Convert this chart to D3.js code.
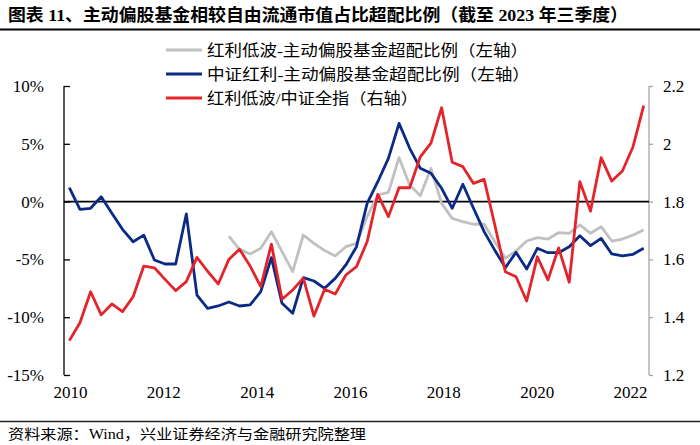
<!DOCTYPE html>
<html>
<head>
<meta charset="utf-8">
<script src="https://cdn.jsdelivr.net/npm/d3@7"></script>
<style>
  body { margin: 0; background: #fff; }
  text { font-family: "Liberation Serif", "Noto Sans CJK SC", serif; }
</style>
</head>
<body>
<div class="chart"></div>
<script>
// quarterly categories, 2010Q1 .. 2023Q3
const quarters = [
  "2010Q1","2010Q2","2010Q3","2010Q4","2011Q1","2011Q2","2011Q3","2011Q4",
  "2012Q1","2012Q2","2012Q3","2012Q4","2013Q1","2013Q2","2013Q3","2013Q4",
  "2014Q1","2014Q2","2014Q3","2014Q4","2015Q1","2015Q2","2015Q3","2015Q4",
  "2016Q1","2016Q2","2016Q3","2016Q4","2017Q1","2017Q2","2017Q3","2017Q4",
  "2018Q1","2018Q2","2018Q3","2018Q4","2019Q1","2019Q2","2019Q3","2019Q4",
  "2020Q1","2020Q2","2020Q3","2020Q4","2021Q1","2021Q2","2021Q3","2021Q4",
  "2022Q1","2022Q2","2022Q3","2022Q4","2023Q1","2023Q2","2023Q3"];

// 红利低波-主动偏股基金超配比例 (%), left axis
const lowVol = [null,null,null,null,null,null,null,null,null,null,null,null,null,null,null,
  -2.98,-4.13,-4.53,-4.04,-2.6,-4.33,-6.06,-2.89,-3.61,-4.24,-4.7,-3.9,-3.61,
  -1.3,0.57,0.8,3.8,1.44,0.51,2.88,-0.15,-1.45,-1.74,-1.96,-1.96,
  -3.47,-4.9,-4.27,-3.41,-3.12,-3.24,-2.69,-2.74,-2.02,-2.74,-2.17,-3.41,-3.24,-2.89,-2.46];

// 中证红利-主动偏股基金超配比例 (%), left axis
const csiDiv = [1.2,-0.67,-0.58,0.42,-1.0,-2.4,-3.47,-2.9,-5.05,-5.4,-5.4,-1.07,-8.08,
  -9.23,-9.03,-8.68,-9.03,-8.94,-7.79,-4.85,-8.8,-9.66,-6.58,-6.87,-7.5,-6.64,-5.48,-3.9,
  -0.15,1.72,3.74,6.77,4.61,2.88,2.45,1.15,-0.58,1.5,-0.58,-2.6,
  -4.2,-5.71,-4.39,-5.83,-4.04,-4.42,-4.42,-3.9,-2.95,-3.81,-3.18,-4.53,-4.7,-4.56,-4.04];

// 红利低波/中证全指, right axis
const ratio = [1.319,1.381,1.488,1.408,1.446,1.419,1.471,1.577,1.571,1.531,1.492,1.523,1.607,
  1.559,1.515,1.600,1.635,1.577,1.506,1.653,1.462,1.494,1.535,1.404,1.497,1.480,1.546,1.575,
  1.661,1.825,1.748,1.848,1.848,1.955,2.002,2.125,1.936,1.921,1.863,1.877,
  1.72,1.557,1.540,1.456,1.609,1.529,1.640,1.521,1.869,1.767,1.952,1.871,1.906,1.990,2.132];

const yearTicks = [2010, 2012, 2014, 2016, 2018, 2020, 2022];
const leftTicks = [10, 5, 0, -5, -10, -15];
const rightTicks = [2.2, 2.0, 1.8, 1.6, 1.4, 1.2];

const legendItems = [
  {name: "红利低波-主动偏股基金超配比例（左轴）", color: "#c0c0c0", w: 321},
  {name: "中证红利-主动偏股基金超配比例（左轴）", color: "#0b2a85", w: 323},
  {name: "红利低波/中证全指（右轴）", color: "#e4242b", w: 211}
];

const outWidth = 700, outHeight = 445;
const plot = {left: 64, right: 649, top: 86, bottom: 375};

const svg = d3.select(".chart").append("svg")
  .attr("width", outWidth)
  .attr("height", outHeight);

// title
svg.append("text")
  .attr("x", 8).attr("y", 21)
  .attr("font-size", 17.5)
  .attr("font-weight", "bold")
  .attr("textLength", 620)
  .attr("lengthAdjust", "spacingAndGlyphs")
  .text("图表 11、主动偏股基金相较自由流通市值占比超配比例（截至 2023 年三季度）");
svg.append("line")
  .attr("x1", 0).attr("x2", outWidth)
  .attr("y1", 29.5).attr("y2", 29.5)
  .attr("stroke", "#000").attr("stroke-width", 2);

// scales
const x = d3.scalePoint()
  .domain(quarters)
  .range([plot.left, plot.right])
  .padding(0.5);
const yearScale = d3.scaleLinear()
  .domain([2010, 2022])
  .range([70, 630]);
const yL = d3.scaleLinear().domain([-15, 10]).range([plot.bottom, plot.top]);
const yR = d3.scaleLinear().domain([1.2, 2.2]).range([plot.bottom, plot.top]);

// left axis
const leftAxis = d3.axisLeft(yL)
  .tickValues(leftTicks)
  .tickSize(-6)
  .tickPadding(20)
  .tickFormat(d => d + "%");
const gL = svg.append("g")
  .attr("transform", `translate(${plot.left},0)`)
  .call(leftAxis);
gL.select(".domain").attr("stroke", "#000").attr("stroke-width", 1.3)
  .attr("d", `M0,${plot.top}V${plot.bottom}`);
gL.selectAll(".tick line").attr("stroke", "#000").attr("stroke-width", 1.3);
gL.selectAll(".tick text").attr("font-size", 17).attr("fill", "#000")
  .attr("font-family", "Liberation Serif");

// right axis
const rightAxis = d3.axisRight(yR)
  .tickValues(rightTicks)
  .tickSize(4)
  .tickPadding(10)
  .tickFormat(d => d3.format("~g")(d));
const gR = svg.append("g")
  .attr("transform", `translate(${plot.right},0)`)
  .call(rightAxis);
gR.select(".domain").attr("stroke", "#a6a6a6").attr("stroke-width", 1.3)
  .attr("d", `M0,${plot.top}V${plot.bottom}`);
gR.selectAll(".tick line").attr("stroke", "#a6a6a6").attr("stroke-width", 1.3);
gR.selectAll(".tick text").attr("font-size", 17).attr("fill", "#000")
  .attr("font-family", "Liberation Serif");

// year labels
const xAxis = d3.axisBottom(yearScale)
  .tickValues(yearTicks)
  .tickSize(0)
  .tickPadding(0)
  .tickFormat(d3.format("d"));
const gX = svg.append("g")
  .attr("transform", `translate(0,386)`)
  .call(xAxis);
gX.select(".domain").remove();
gX.selectAll(".tick text").attr("font-size", 17).attr("fill", "#000")
  .attr("font-family", "Liberation Serif");

// zero line
svg.append("line")
  .attr("x1", plot.left).attr("x2", plot.right)
  .attr("y1", yL(0)).attr("y2", yL(0))
  .attr("stroke", "#000").attr("stroke-width", 1.6);

// series
const lineL = d3.line()
  .defined(d => d != null)
  .x((d, i) => x(quarters[i]))
  .y(d => yL(d));
const lineR = d3.line()
  .x((d, i) => x(quarters[i]))
  .y(d => yR(d));

svg.append("path").datum(lowVol)
  .attr("d", lineL).attr("fill", "none")
  .attr("stroke", legendItems[0].color).attr("stroke-width", 2.8)
  .attr("stroke-linejoin", "round");
svg.append("path").datum(csiDiv)
  .attr("d", lineL).attr("fill", "none")
  .attr("stroke", legendItems[1].color).attr("stroke-width", 2.8)
  .attr("stroke-linejoin", "round");
svg.append("path").datum(ratio)
  .attr("d", lineR).attr("fill", "none")
  .attr("stroke", legendItems[2].color).attr("stroke-width", 2.8)
  .attr("stroke-linejoin", "round");

// legend
const leg = svg.append("g").selectAll("g")
  .data(legendItems)
  .enter().append("g")
  .attr("transform", (d, i) => `translate(166,${50 + i * 24})`);
leg.append("line")
  .attr("x1", 0).attr("x2", 36)
  .attr("stroke", d => d.color).attr("stroke-width", 2.8);
leg.append("text")
  .attr("x", 41).attr("y", 0)
  .attr("dy", "0.36em")
  .attr("font-size", 15.5)
  .attr("font-family", "Noto Sans CJK SC")
  .attr("textLength", d => d.w)
  .attr("lengthAdjust", "spacingAndGlyphs")
  .text(d => d.name);

// footer
svg.append("line")
  .attr("x1", 0).attr("x2", outWidth)
  .attr("y1", 421.5).attr("y2", 421.5)
  .attr("stroke", "#222").attr("stroke-width", 1.5);
svg.append("text")
  .attr("x", 8).attr("y", 439)
  .attr("font-size", 14)
  .attr("textLength", 358)
  .attr("lengthAdjust", "spacingAndGlyphs")
  .text("资料来源：Wind，兴业证券经济与金融研究院整理");
</script>
</body>
</html>
